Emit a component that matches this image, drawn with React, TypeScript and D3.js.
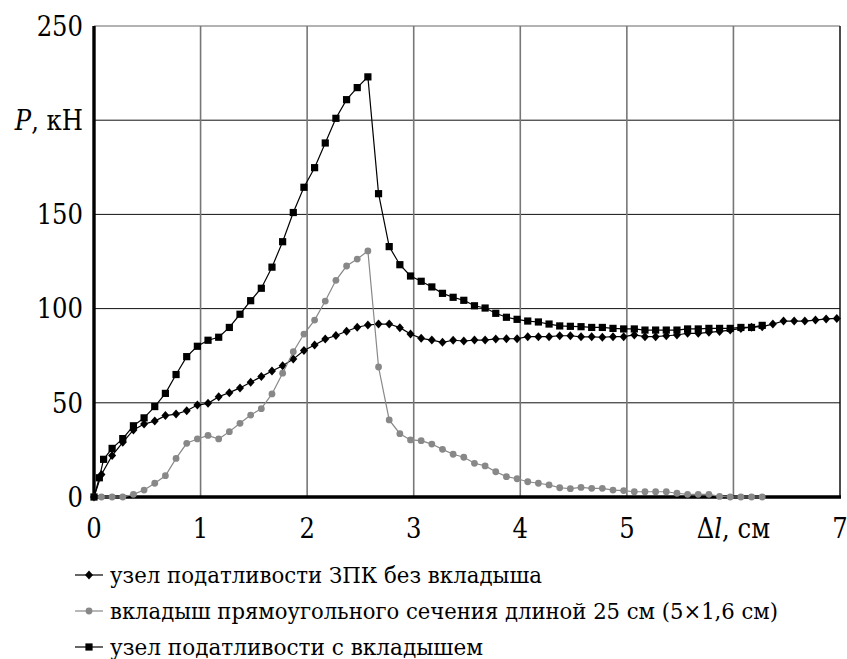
import { line, scaleLinear } from 'd3'

// Δl, cm — common sampling of the two series without the stiff initial jump
const deltaL = [
  0, 0.07, 0.17, 0.27, 0.37, 0.47, 0.57, 0.67, 0.77, 0.87, 0.97, 1.07, 1.17, 1.27, 1.37, 1.47,
  1.57, 1.67, 1.77, 1.87, 1.97, 2.07, 2.17, 2.27, 2.37, 2.47, 2.57, 2.67, 2.77, 2.87, 2.97, 3.07,
  3.17, 3.27, 3.37, 3.47, 3.57, 3.67, 3.77, 3.87, 3.97, 4.07, 4.17, 4.27, 4.37, 4.47, 4.57, 4.67,
  4.77, 4.87, 4.97, 5.07, 5.17, 5.27, 5.37, 5.47, 5.57, 5.67, 5.77, 5.87, 5.97, 6.07, 6.17, 6.27,
  6.37, 6.47, 6.57, 6.67, 6.77, 6.87, 6.97,
]

// узел податливости ЗПК без вкладыша
const pNoInsert = [
  0, 12, 22, 29, 35.6, 38.7, 40.3, 43.2, 44, 45.8, 48.8, 49.7, 53.2, 55.4, 57.9, 60.9,
  63.9, 66.9, 69.7, 73.2, 77.8, 80.7, 83.8, 85.7, 88, 90.1, 91.3, 91.8, 91.8, 89.9, 86.5, 84.2,
  83.3, 82.1, 83.2, 82.8, 83.3, 83.3, 83.9, 84, 84, 85.1, 85.1, 85.1, 85.6, 85.6, 85, 85,
  84.8, 85.1, 85.1, 86, 85.1, 85.1, 85.6, 86, 86.9, 86.9, 87.4, 87.9, 88.6, 89.5, 90.1, 90.4,
  91.8, 93.4, 93.4, 93.4, 93.9, 94.5, 94.8,
]

// вкладыш прямоугольного сечения (same Δl, ends at 6.27)
const pInsertOnly = [
  0, 0, 0, 0, 1.4, 3.7, 7.3, 11.3, 20.5, 28.5, 30.8, 32.7, 30.8, 34.7, 39.1, 43.5,
  46.9, 54.7, 65.7, 77.1, 86.5, 93.9, 104, 115, 122.6, 126.3, 130.6, 69, 40.9, 33.6, 30.3, 29.9,
  28.1, 25.3, 22.7, 21.1, 17.9, 16.5, 13.4, 10.8, 9.7, 8.1, 7.3, 6.4, 4.9, 4.4, 5.1, 4.6,
  4.6, 3.7, 3.4, 2.8, 2.8, 2.8, 2.8, 2, 1.4, 1.4, 1.4, 0.3, 0, 0, 0, 0,
]

// узел податливости с вкладышем
const deltaLWithInsert = [
  0, 0.05, 0.09, 0.17, 0.27, 0.37, 0.47, 0.57, 0.67, 0.77, 0.87, 0.97, 1.07, 1.17, 1.27, 1.37,
  1.47, 1.57, 1.67, 1.77, 1.87, 1.97, 2.07, 2.17, 2.27, 2.37, 2.47, 2.57, 2.67, 2.77, 2.87, 2.97,
  3.07, 3.17, 3.27, 3.37, 3.47, 3.57, 3.67, 3.77, 3.87, 3.97, 4.07, 4.17, 4.27, 4.37, 4.47, 4.57,
  4.67, 4.77, 4.87, 4.97, 5.07, 5.17, 5.27, 5.37, 5.47, 5.57, 5.67, 5.77, 5.87, 5.97, 6.07, 6.17,
  6.27,
]
const pWithInsert = [
  0, 10.2, 20, 25.8, 31, 37.8, 42, 48, 55, 65, 74.5, 80, 83.2, 84.8, 90, 97,
  104.2, 110.8, 122, 135.5, 151, 164.4, 174.8, 187.9, 201, 210.9, 217.3, 223, 161, 132.9, 123.3, 117.3,
  114.5, 111.5, 108.1, 106, 104.4, 101.5, 100.3, 97.5, 95.4, 94.3, 93.4, 92.9, 91.8, 90.8, 90.6, 90.4,
  90, 90, 89.5, 89.2, 89.2, 88.6, 88.6, 88.6, 88.6, 89.2, 89.2, 89.5, 89.5, 89.5, 90, 90,
  91.1,
]

const xTicks = [0, 1, 2, 3, 4, 5, 6, 7]
const yTicks = [0, 50, 100, 150, 200, 250]
// the 200 tick carries the axis name instead of a number, the 6 tick likewise
const yLabelTicks = [0, 50, 100, 150, 250]
const legendLabels = [
  'узел податливости ЗПК без вкладыша',
  'вкладыш прямоугольного сечения длиной 25 см (5×1,6 см)',
  'узел податливости с вкладышем',
]
// rendered widths of the legend lines in the reference, px
const legendWidths = [432, 668, 373]

const chartWidth = 847
const chartHeight = 659
const plot = { left: 94, right: 840, top: 26, bottom: 497 }
const serif = 'DejaVu Serif'
const gray = '#888888'

type Point = [number, number]

function zipPoints(xs: number[], ys: number[]): Point[] {
  return ys.map((y, i) => [xs[i], y])
}

function Diamond({ x, y, color }: { x: number; y: number; color: string }) {
  return <path d={`M${x},${y - 4.5}L${x + 4},${y}L${x},${y + 4.5}L${x - 4},${y}Z`} fill={color} />
}

function Square({ x, y, color }: { x: number; y: number; color: string }) {
  return <rect x={x - 3.6} y={y - 3.6} width={7.2} height={7.2} fill={color} />
}

function Dot({ x, y, color }: { x: number; y: number; color: string }) {
  return <circle cx={x} cy={y} r={3.4} fill={color} />
}

export default function App() {
  const xScale = scaleLinear().domain([0, 7]).range([plot.left, plot.right])
  const yScale = scaleLinear().domain([0, 250]).range([plot.bottom, plot.top])

  const lineGen = line<Point>()
    .x((d) => xScale(d[0]))
    .y((d) => yScale(d[1]))

  const series = [
    { points: zipPoints(deltaL, pNoInsert), color: '#000', Marker: Diamond },
    { points: zipPoints(deltaL, pInsertOnly), color: gray, Marker: Dot },
    { points: zipPoints(deltaLWithInsert, pWithInsert), color: '#000', Marker: Square },
  ]

  return (
    <>
      <style>{'body{margin:0}'}</style>
      <svg width={chartWidth} height={chartHeight} style={{ display: 'block', background: '#fff' }}>
        {/* grid */}
        {yTicks.map((tick) => (
          <line
            key={`gy-${tick}`}
            x1={plot.left}
            x2={plot.right}
            y1={yScale(tick)}
            y2={yScale(tick)}
            stroke={tick === 250 ? '#666' : '#111'}
            strokeWidth={1}
          />
        ))}
        {xTicks.map((tick) => (
          <line
            key={`gx-${tick}`}
            x1={xScale(tick)}
            x2={xScale(tick)}
            y1={plot.top}
            y2={plot.bottom}
            stroke={tick === 7 ? '#111' : '#777'}
            strokeWidth={tick === 7 ? 1.5 : 1.6}
          />
        ))}

        {/* axes */}
        <line x1={plot.left} x2={plot.left} y1={plot.top} y2={plot.bottom + 1.5} stroke="#000" strokeWidth={3.4} />
        <line x1={plot.left} x2={plot.right + 1} y1={plot.bottom} y2={plot.bottom} stroke="#000" strokeWidth={3.6} />

        {/* series */}
        {series.map((s, i) => (
          <g key={`s-${i}`}>
            <path d={lineGen(s.points) ?? ''} fill="none" stroke={s.color} strokeWidth={1.2} />
            {s.points.map((p, j) => (
              <s.Marker key={j} x={xScale(p[0])} y={yScale(p[1])} color={s.color} />
            ))}
          </g>
        ))}

        {/* tick labels */}
        <g fontSize={27} fill="#000" fontFamily={serif} fontStretch="condensed">
          {yLabelTicks.map((tick) => (
            <text key={`ly-${tick}`} x={83} y={yScale(tick)} dy="0.36em" textAnchor="end">
              {tick}
            </text>
          ))}
          {xTicks.map((tick) => (
            <text key={`lx-${tick}`} x={xScale(tick)} y={538} textAnchor="middle">
              {tick === 6 ? (
                <>
                  Δ<tspan fontStyle="italic">l</tspan>, см
                </>
              ) : (
                tick
              )}
            </text>
          ))}
          <text x={83} y={130} textAnchor="end">
            <tspan fontStyle="italic">P</tspan>, кН
          </text>
        </g>

        {/* legend */}
        <g fontSize={22} fill="#000" fontFamily={serif} fontStretch="condensed">
          {series.map((s, i) => {
            const y = 575 + i * 36
            return (
              <g key={`lg-${i}`}>
                <line x1={75} x2={103} y1={y} y2={y} stroke={s.color} strokeWidth={1.2} />
                <s.Marker x={89} y={y} color={s.color} />
                <text x={110} y={y + 8} textLength={legendWidths[i]} lengthAdjust="spacingAndGlyphs">
                  {legendLabels[i]}
                </text>
              </g>
            )
          })}
        </g>
      </svg>
    </>
  )
}
